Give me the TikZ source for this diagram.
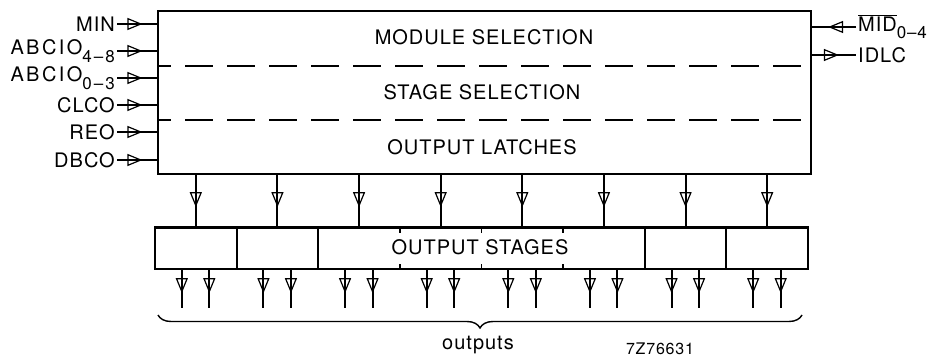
\documentclass[tikz,border=0pt]{standalone}
\usepackage{fontspec}
\setmainfont{TeX Gyre Heros}[LetterSpace=5]
\usetikzlibrary{arrows.meta,decorations.markings,decorations.pathreplacing}
\newcommand{\lowsub}[1]{\raisebox{-0.38em}{\fontsize{17}{17}\selectfont #1}}
\tikzset{
  thickbox/.style={draw, line width=2.2pt, inner sep=0pt, outer sep=0pt},
  cellnode/.style={inner sep=0pt, outer sep=0pt, minimum width=81.625pt, minimum height=41.5pt},
  divider/.style={line width=2.2pt},
  stubline/.style={line width=1.6pt},
  sepline/.style={line width=1.6pt, dash pattern=on 28pt off 14pt, dash phase=15pt},
  sig/.style={line width=2pt, postaction={decorate},
    decoration={markings, mark=at position 0.62 with {\arrow[line width=1.2pt]{Triangle[open, length=15pt, width=12pt]}}}},
  lbl/.style={inner sep=2pt, font=\fontsize{20}{23}\selectfont},
  boxtext/.style={font=\fontsize{20}{23}\selectfont, inner sep=0pt},
  bracestyle/.style={line width=1.4pt, decorate, decoration={brace, amplitude=13pt, mirror}},
}
\begin{document}
\begin{tikzpicture}[x=1pt,y=-1pt]
\useasboundingbox (0,0) rectangle (942,358);
% main block
\node[thickbox, minimum width=653pt, minimum height=163pt, anchor=north west] (main) at (158,11) {};
\draw[sepline] (158,66) -- (811,66);
\draw[sepline] (158,120) -- (811,120);
\node[boxtext] (tmod) at (484,37) {MODULE SELECTION};
\node[boxtext] (tstg) at (482,92) {STAGE SELECTION};
\node[boxtext] (tlat) at (482,147.5) {OUTPUT LATCHES};
% left inputs
\node[lbl, anchor=east] (iMIN) at (117,24) {MIN};
\node[lbl, anchor=east] (iAa) at (117,51) {\addfontfeature{LetterSpace=12}ABCIO\lowsub{4–8}};
\node[lbl, anchor=east] (iAb) at (117,78) {\addfontfeature{LetterSpace=12}ABCIO\lowsub{0–3}};
\node[lbl, anchor=east] (iCLCO) at (117,105) {CLCO};
\node[lbl, anchor=east] (iREO) at (117,132) {REO};
\node[lbl, anchor=east] (iDBCO) at (117,160) {DBCO};
\foreach \n in {iMIN,iAa,iAb,iCLCO,iREO,iDBCO}
  \draw[sig] (\n.east) -- (\n.east -| main.west);
% right side
\node[lbl, anchor=west] (oMID) at (856,27) {$\overline{\hbox{MID}}$\lowsub{0–4}};
\node[lbl, anchor=west] (oIDLC) at (856,55) {IDLC};
\draw[sig] (oMID.west) -- (oMID.west -| main.east);
\draw[sig] (oIDLC.west -| main.east) -- (oIDLC.west);
% output stages
\node[thickbox, minimum width=653pt, minimum height=41.5pt, anchor=north west] (stages) at (155,227.5) {};
\foreach \i in {1,...,8}
  \node[cellnode] (c\i) at ({155+81.625*(\i-0.5)},248.25) {};
\foreach \i in {1,2,6,7}
  \draw[divider] (c\i.north east) -- (c\i.south east);
\foreach \i in {3,4,5} {
  \draw[stubline] (c\i.north east) -- ++(0,5);
  \draw[stubline] (c\i.south east) -- ++(0,-5);
}
\node[boxtext] (tout) at (480,247) {OUTPUT STAGES};
\foreach \i in {1,...,8} {
  \draw[sig] (c\i.north |- main.south) -- (c\i.north);
  \draw[sig] ([xshift=-14pt]c\i.south) -- ++(0,39);
  \draw[sig] ([xshift=13.5pt]c\i.south) -- ++(0,39);
}
% brace and labels
\coordinate (bl) at (158,315);
\coordinate (br) at (802,315);
\draw[bracestyle] (bl) -- (br);
\node[lbl] (outs) at (478,345) {outputs};
\node[font=\fontsize{16}{18}\selectfont, inner sep=0pt] (code) at (660,349) {7Z76631};
\end{tikzpicture}
\end{document}
